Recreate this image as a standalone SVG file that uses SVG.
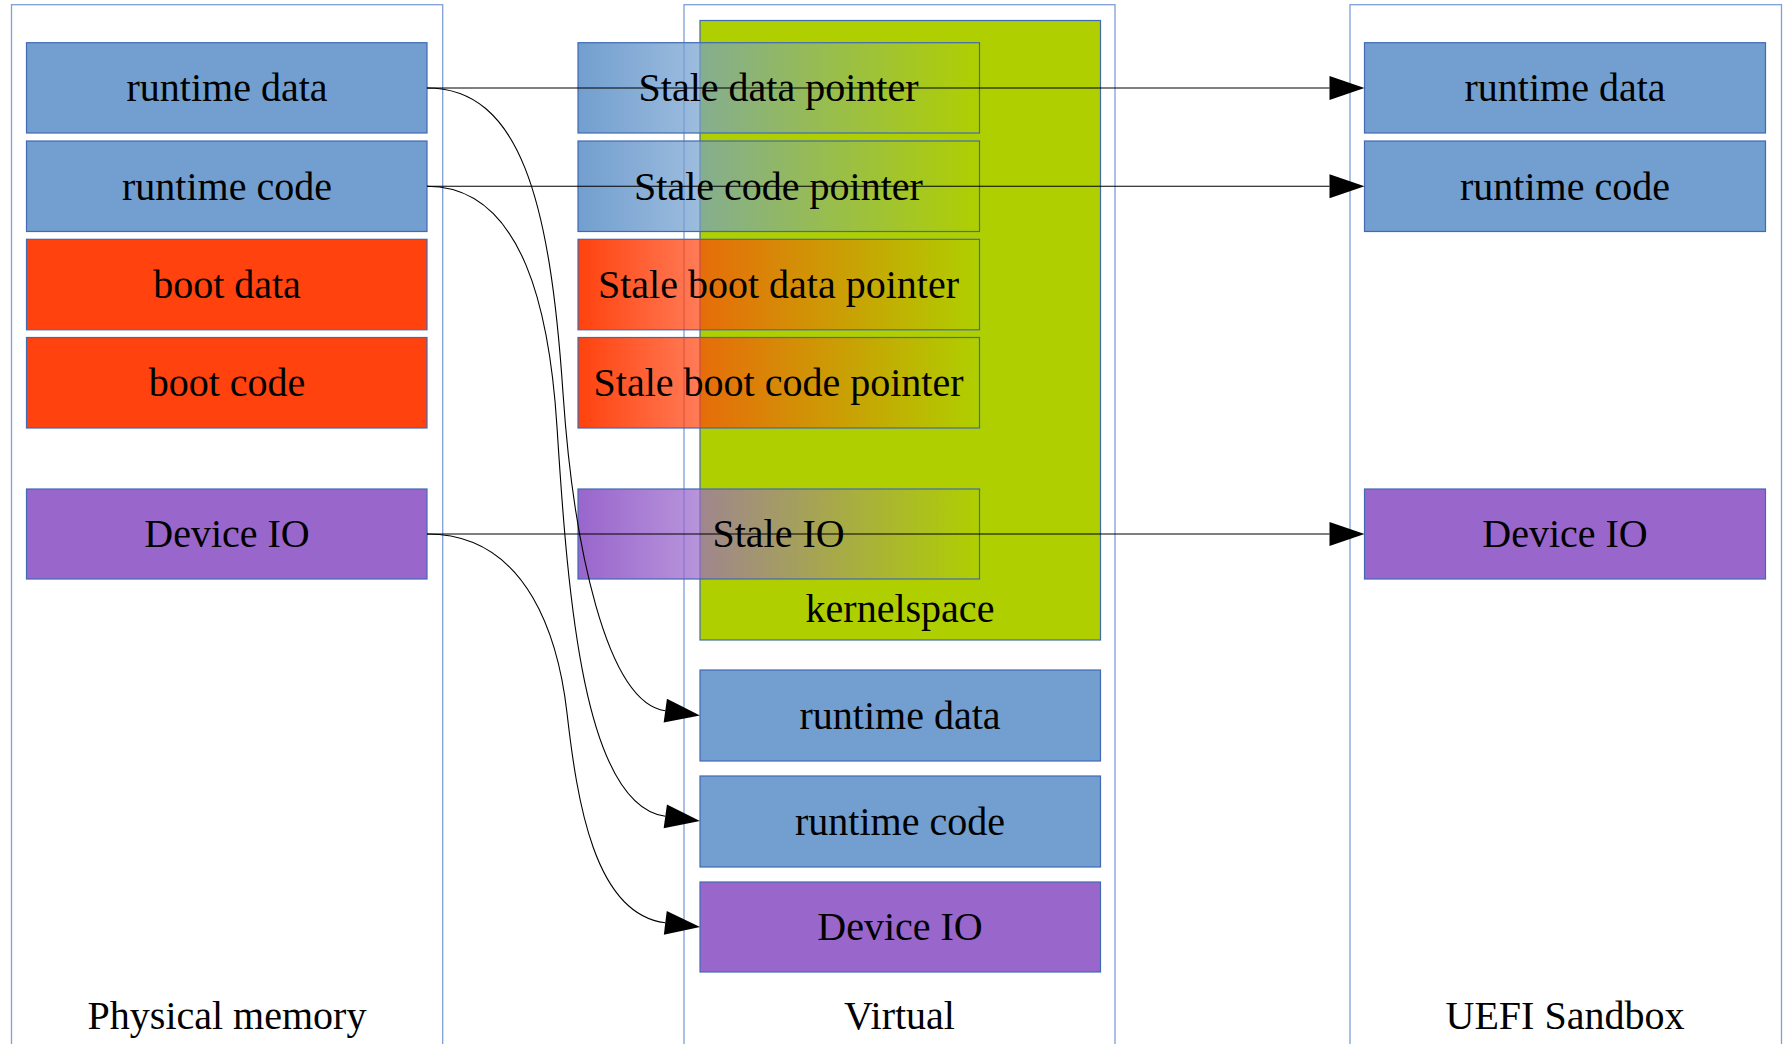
<svg xmlns="http://www.w3.org/2000/svg" width="1785" height="1044" viewBox="0 0 1785 1044">
<style>
.cluster{fill:none;stroke:#7f9fd8;stroke-width:1.3}
.n{stroke:#4169b4;stroke-width:1.2}
.blue{fill:#729fcf}
.red{fill:#ff420e}
.purple{fill:#9966cc}
.green{fill:#afcf00}
.sblue{fill:url(#gBlue)}
.sred{fill:url(#gRed)}
.spurple{fill:url(#gPurple)}
text{font-family:"Liberation Serif","Times New Roman",serif;font-size:40px;fill:#000;text-anchor:middle}
.e{fill:none;stroke:#000;stroke-width:1.1;marker-end:url(#ah)}
</style>
<defs>
<linearGradient id="gBlue" x1="0" y1="0" x2="1" y2="0"><stop offset="0" stop-color="#729fcf" stop-opacity="1"/><stop offset="1" stop-color="#729fcf" stop-opacity="0"/></linearGradient>
<linearGradient id="gRed" x1="0" y1="0" x2="1" y2="0"><stop offset="0" stop-color="#ff420e" stop-opacity="1"/><stop offset="1" stop-color="#ff420e" stop-opacity="0"/></linearGradient>
<linearGradient id="gPurple" x1="0" y1="0" x2="1" y2="0"><stop offset="0" stop-color="#9966cc" stop-opacity="1"/><stop offset="1" stop-color="#9966cc" stop-opacity="0"/></linearGradient>
<marker id="ah" markerUnits="userSpaceOnUse" markerWidth="40" markerHeight="30" refX="0" refY="0" orient="auto" overflow="visible"><path d="M0,-12 L35,0 L0,12 z" fill="#000"/></marker>
</defs>
<rect width="1785" height="1044" fill="#fff"/>

<g id="cluster_physical">
<rect class="cluster" x="11.5" y="4.7" width="431.2" height="1100"/>
<text x="227" y="1029">Physical memory</text>
</g>
<g id="cluster_virtual">
<rect class="cluster" x="684" y="4.7" width="431" height="1100"/>
<text x="899.5" y="1029">Virtual</text>
</g>
<g id="cluster_uefi">
<rect class="cluster" x="1350" y="4.7" width="431.5" height="1100"/>
<text x="1565" y="1029">UEFI Sandbox</text>
</g>

<g id="kernelspace">
<rect class="n green" x="700" y="20.5" width="400.5" height="619.5"/>
<text x="900" y="622">kernelspace</text>
</g>

<g id="phys_runtime_data"><rect class="n blue" x="26.5" y="42.7" width="400.5" height="90.3"/><text x="227" y="101">runtime data</text></g>
<g id="phys_runtime_code"><rect class="n blue" x="26.5" y="141" width="400.5" height="90.5"/><text x="227" y="199.5">runtime code</text></g>
<g id="phys_boot_data"><rect class="n red" x="26.5" y="239.3" width="400.5" height="90.5"/><text x="227" y="297.5">boot data</text></g>
<g id="phys_boot_code"><rect class="n red" x="26.5" y="337.5" width="400.5" height="90.5"/><text x="227" y="396">boot code</text></g>
<g id="phys_device_io"><rect class="n purple" x="26.5" y="489" width="400.5" height="90"/><text x="227" y="547">Device IO</text></g>

<g id="uefi_runtime_data"><rect class="n blue" x="1364.5" y="42.7" width="401" height="90.3"/><text x="1565" y="101">runtime data</text></g>
<g id="uefi_runtime_code"><rect class="n blue" x="1364.5" y="141" width="401" height="90.5"/><text x="1565" y="199.5">runtime code</text></g>
<g id="uefi_device_io"><rect class="n purple" x="1364.5" y="489" width="401" height="90"/><text x="1565" y="547">Device IO</text></g>

<g id="virt_runtime_data"><rect class="n blue" x="700" y="670" width="400.5" height="91"/><text x="900" y="728.5">runtime data</text></g>
<g id="virt_runtime_code"><rect class="n blue" x="700" y="776" width="400.5" height="91"/><text x="900" y="834.5">runtime code</text></g>
<g id="virt_device_io"><rect class="n purple" x="700" y="882" width="400.5" height="90"/><text x="900" y="940">Device IO</text></g>

<g id="stale_data"><rect class="n sblue" x="578" y="42.7" width="401.5" height="90.3"/><text x="778.5" y="101">Stale data pointer</text></g>
<g id="stale_code"><rect class="n sblue" x="578" y="141" width="401.5" height="90.5"/><text x="778.5" y="199.5">Stale code pointer</text></g>
<g id="stale_boot_data"><rect class="n sred" x="578" y="239.3" width="401.5" height="90.5"/><text x="778.5" y="297.5">Stale boot data pointer</text></g>
<g id="stale_boot_code"><rect class="n sred" x="578" y="337.5" width="401.5" height="90.5"/><text x="778.5" y="396">Stale boot code pointer</text></g>
<g id="stale_io"><rect class="n spurple" x="578" y="489" width="401.5" height="90"/><text x="778.5" y="547">Stale IO</text></g>

<g id="connectors">
<path class="e" d="M427,88 L1329.5,88"/>
<path class="e" d="M427,186.3 L1329.5,186.3"/>
<path class="e" d="M427,534 L1329.5,534"/>
<path class="e" d="M427,88 C520,88 550,200 563,393 C573.1,543 606,702.5 665.3,710.7"/>
<path class="e" d="M427,186.3 C525,186.3 550,317 557,427 C568,600 584,805 665.3,816.3"/>
<path class="e" d="M427,534 C530,534 559,643 567,713 C577,800 594,914 665.3,922.8"/>
</g>
</svg>
